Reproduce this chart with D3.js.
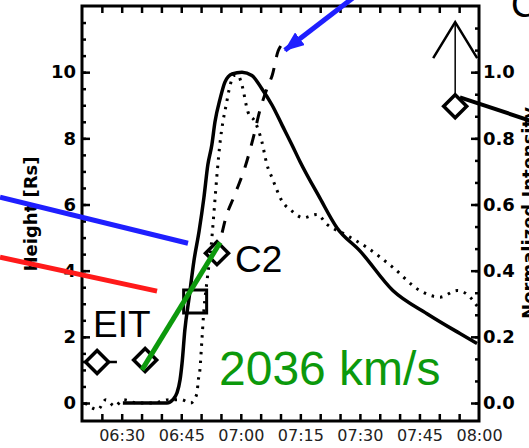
<!DOCTYPE html>
<html>
<head>
<meta charset="utf-8">
<script src="https://cdn.jsdelivr.net/npm/d3@7"></script>
<style>
  body { margin: 0; background: #fff; }
  svg { display: block; }
</style>
</head>
<body>
<svg id="chart" width="529" height="448"></svg>
<script>
// ---- data ----
const timeLabels = ["06:30", "06:45", "07:00", "07:15", "07:30", "07:45", "08:00"];
const heightTicks = [0, 2, 4, 6, 8, 10];
const intensityTicks = [0.0, 0.2, 0.4, 0.6, 0.8, 1.0];

// solid: normalized intensity (right axis)
const solidTimes = ["06:30:18","06:41:24","06:42:54","06:43:54","06:44:42","06:45:12","06:45:54","06:47:00","06:48:12","06:49:30",
  "06:50:42","06:51:42","06:52:42","06:53:30","06:54:48","06:56:00","06:57:48","07:00:18","07:02:48","07:05:18",
  "07:07:54","07:10:24","07:12:54","07:14:54","07:19:54","07:24:12","07:30:00","07:38:18","07:46:54","07:55:12","07:59:30"];
const solidIntensity = [0.00,0.00,0.01,0.03,0.07,0.12,0.22,0.32,0.43,0.52,
  0.62,0.72,0.78,0.85,0.92,0.97,0.995,1.00,0.99,0.95,
  0.90,0.84,0.78,0.73,0.62,0.53,0.46,0.34,0.27,0.21,0.18];

// dotted: second normalized intensity (right axis)
const dottedTimes = ["06:20:48","06:24:00","06:26:00","06:28:18","06:30:18","06:34:00","06:38:00","06:42:00","06:45:00","06:47:24",
  "06:49:00","06:49:12","06:49:42","06:50:12","06:50:42","06:51:30","06:52:30","06:53:12","06:54:00","06:54:48",
  "06:55:30","06:56:18","06:57:18","06:58:18","06:59:18","07:00:18","07:01:48","07:03:36","07:05:18","07:06:36",
  "07:07:54","07:10:24","07:12:54","07:15:42","07:19:12","07:21:42","07:26:12","07:31:48","07:38:18","07:45:06",
  "07:50:12","07:54:30","07:58:30","07:59:42"];
const dottedIntensity = [0.00,-0.02,0.01,-0.01,0.01,0.00,0.00,0.01,0.01,0.00,
  0.03,0.06,0.10,0.19,0.28,0.37,0.47,0.57,0.69,0.79,
  0.85,0.90,0.96,0.99,0.99,0.96,0.88,0.85,0.79,0.72,
  0.68,0.61,0.58,0.56,0.57,0.54,0.51,0.47,0.41,0.34,
  0.32,0.34,0.31,0.29];

// dashed: height profile [Rs] (left axis)
const dashedTimes = ["06:55:18","06:56:00","06:58:30","07:01:06","07:03:06","07:04:48","07:06:54","07:07:54","07:09:24","07:10:06"];
const dashedHeight = [5.15, 5.5, 6.3, 7.14, 8.0, 8.84, 9.6, 9.9, 10.64, 10.8];

// height measurements [Rs]
const eitTimes = ["06:23:48", "06:35:54"];
const eitHeight = [1.24, 1.30];
const eitErrMin = [5, 0];
const boxTime = "06:48:30";
const boxHeight = 3.07;
const c2Time = "06:54:00";
const c2Height = 4.53;
const c3Time = "07:54:00";
const c3Height = 8.97;
const c3Limit = 11.51;

// linear fit 2036 km/s
const fitTimes = ["06:35:06", "06:54:48"];
const fitHeight = [1.0, 4.85];

// pointer lines coming in from the neighbouring panels
const blueTimes = ["05:59:21", "06:46:42"];
const blueHeight = [6.22, 4.83];
const redTimes = ["05:59:21", "06:38:54"];
const redHeight = [4.41, 3.38];
const blackTimes = ["07:55:12", "08:14:00"];
const blackHeight = [9.24, 8.49];
const arrowTimes = ["07:30:48", "07:11:06"];
const arrowHeight = [12.48, 10.66];

// ---- chart ----
const parseT = d3.timeParse("%H:%M:%S");
const parseHM = d3.timeParse("%H:%M");

const plotL = 82, plotR = 479, plotT = 6, plotB = 421;

const x = d3.scaleTime()
  .domain([parseT("06:20:00"), parseT("08:00:00")])
  .range([plotL, plotR]);
const yH = d3.scaleLinear().domain([-0.544, 12.0]).range([plotB, plotT]);
const yI = d3.scaleLinear().domain([-0.0544, 1.2]).range([plotB, plotT]);

const svg = d3.select("#chart");

svg.append("defs").append("clipPath").attr("id", "plotclip")
  .append("rect")
  .attr("x", plotL).attr("y", plotT)
  .attr("width", plotR - plotL).attr("height", plotB - plotT);

const blue = "#1f1fff", red = "#ff1a1a", green = "#0c990c";

// axis titles (drawn first, pointer lines go over them)
svg.append("text")
  .attr("transform", "translate(37,214) rotate(-90)")
  .attr("text-anchor", "middle")
  .attr("font-family", "DejaVu Sans")
  .attr("font-weight", "bold")
  .attr("font-size", 18)
  .text("Height [Rs]");

// right title runs off the edge of the panel, as in the source figure
svg.append("text")
  .attr("transform", "translate(535,213) rotate(-90)")
  .attr("text-anchor", "middle")
  .attr("font-family", "DejaVu Sans")
  .attr("font-weight", "bold")
  .attr("font-size", 18)
  .text("Normalized Intensity");

// ticks
function styleAxis(g) {
  g.select(".domain").remove();
  g.selectAll("line").attr("stroke", "#000").attr("stroke-width", 2.5);
}

const minuteTicks = d3.timeMinute.every(5).range(parseT("06:25:00"), parseT("08:00:00"));

svg.append("g")
  .attr("transform", `translate(0,${plotB})`)
  .call(d3.axisBottom(x).tickValues(minuteTicks).tickSize(-7).tickFormat(""))
  .call(styleAxis);

svg.append("g")
  .attr("transform", `translate(0,${plotT})`)
  .call(d3.axisTop(x).tickValues(minuteTicks).tickSize(-7).tickFormat(""))
  .call(styleAxis);

const xLab = svg.append("g")
  .attr("transform", `translate(0,${plotB})`)
  .call(d3.axisBottom(x)
    .tickValues(timeLabels.map(parseHM))
    .tickFormat(d3.timeFormat("%H:%M"))
    .tickSize(0).tickPadding(9))
  .call(styleAxis);
xLab.selectAll("text")
  .attr("font-family", "DejaVu Sans")
  .attr("font-size", 16)
  .attr("fill", "#222");

// left axis
svg.append("g")
  .attr("transform", `translate(${plotL},0)`)
  .call(d3.axisLeft(yH).tickValues(d3.range(0, 12, 0.5)).tickSize(-4).tickFormat(""))
  .call(styleAxis);
const yLab = svg.append("g")
  .attr("transform", `translate(${plotL},0)`)
  .call(d3.axisLeft(yH).tickValues(heightTicks).tickSize(-8).tickPadding(6).tickFormat(d3.format("d")))
  .call(styleAxis);
yLab.selectAll("text")
  .attr("font-family", "DejaVu Sans")
  .attr("font-weight", "bold")
  .attr("font-size", 18)
  .attr("fill", "#000");

// right axis
svg.append("g")
  .attr("transform", `translate(${plotR},0)`)
  .call(d3.axisRight(yI).tickValues(d3.range(0, 18).map(i => i * 0.2 / 3)).tickSize(-4).tickFormat(""))
  .call(styleAxis);
const yRLab = svg.append("g")
  .attr("transform", `translate(${plotR},0)`)
  .call(d3.axisRight(yI).tickValues(intensityTicks).tickSize(-8).tickPadding(4).tickFormat(d3.format(".1f")))
  .call(styleAxis);
yRLab.selectAll("text")
  .attr("font-family", "DejaVu Sans")
  .attr("font-weight", "bold")
  .attr("font-size", 18)
  .attr("fill", "#000");

// frame
svg.append("rect")
  .attr("x", plotL).attr("y", plotT)
  .attr("width", plotR - plotL).attr("height", plotB - plotT)
  .attr("fill", "none")
  .attr("stroke", "#000")
  .attr("stroke-width", 3);

// curves
const plot = svg.append("g").attr("clip-path", "url(#plotclip)");

function zipSeries(times, values) {
  return times.map((t, i) => ({ t: parseT(t), v: values[i] }));
}

const intensityLine = d3.line().x(d => x(d.t)).y(d => yI(d.v)).curve(d3.curveMonotoneX);
const heightLine = d3.line().x(d => x(d.t)).y(d => yH(d.v));

plot.append("path")
  .datum(zipSeries(dottedTimes, dottedIntensity))
  .attr("d", intensityLine)
  .attr("fill", "none")
  .attr("stroke", "#000")
  .attr("stroke-width", 3)
  .attr("stroke-dasharray", "2.5,6");

plot.append("path")
  .datum(zipSeries(solidTimes, solidIntensity))
  .attr("d", intensityLine)
  .attr("fill", "none")
  .attr("stroke", "#000")
  .attr("stroke-width", 3.5);

plot.append("path")
  .datum(zipSeries(dashedTimes, dashedHeight))
  .attr("d", heightLine.curve(d3.curveMonotoneX))
  .attr("fill", "none")
  .attr("stroke", "#000")
  .attr("stroke-width", 3)
  .attr("stroke-dasharray", "12,11");

// error bar on first EIT point
eitTimes.forEach((t, i) => {
  if (!eitErrMin[i]) return;
  const tc = parseT(t);
  plot.append("line")
    .attr("x1", x(d3.timeMinute.offset(tc, -eitErrMin[i])))
    .attr("x2", x(d3.timeMinute.offset(tc, eitErrMin[i])))
    .attr("y1", yH(eitHeight[i])).attr("y2", yH(eitHeight[i]))
    .attr("stroke", "#000").attr("stroke-width", 2.5);
});

const diamond = d3.symbol().type(d3.symbolSquare).size(265);

const diamonds = zipSeries(eitTimes.concat([c2Time, c3Time]), eitHeight.concat([c2Height, c3Height]));
svg.selectAll(".dia")
  .data(diamonds)
  .join("path")
  .attr("class", "dia")
  .attr("d", diamond)
  .attr("transform", d => `translate(${x(d.t)},${yH(d.v)}) rotate(45)`)
  .attr("fill", (d, i) => i === 0 ? "#fff" : "none")
  .attr("stroke", "#000")
  .attr("stroke-width", 3.5);

svg.append("path")
  .attr("d", d3.symbol().type(d3.symbolSquare).size(529))
  .attr("transform", `translate(${x(parseT(boxTime))},${yH(boxHeight)})`)
  .attr("fill", "none")
  .attr("stroke", "#000")
  .attr("stroke-width", 3);

// C3 lower limit arrow
const c3x = x(parseT(c3Time));
svg.append("line")
  .attr("x1", c3x).attr("x2", c3x)
  .attr("y1", yH(c3Height) - 11).attr("y2", yH(c3Limit))
  .attr("stroke", "#000").attr("stroke-width", 1.5);
svg.append("path")
  .attr("d", `M${c3x - 22},${yH(c3Limit) + 36}L${c3x},${yH(c3Limit)}L${c3x + 22},${yH(c3Limit) + 36}`)
  .attr("fill", "none")
  .attr("stroke", "#000").attr("stroke-width", 2.5);

// fit line
svg.append("path")
  .datum(zipSeries(fitTimes, fitHeight))
  .attr("d", d3.line().x(d => x(d.t)).y(d => yH(d.v)))
  .attr("stroke", green).attr("stroke-width", 5);

// pointer lines
function pointer(times, values, color, width) {
  return svg.append("path")
    .datum(zipSeries(times, values))
    .attr("d", d3.line().x(d => x(d.t)).y(d => yH(d.v)))
    .attr("fill", "none")
    .attr("stroke", color)
    .attr("stroke-width", width);
}
pointer(blueTimes, blueHeight, blue, 5);
pointer(redTimes, redHeight, red, 5);
pointer(blackTimes, blackHeight, "#000", 4);

svg.select("defs").append("marker")
  .attr("id", "bluehead")
  .attr("markerUnits", "userSpaceOnUse")
  .attr("viewBox", "0 0 20 16")
  .attr("refX", 19).attr("refY", 8)
  .attr("markerWidth", 20).attr("markerHeight", 16)
  .attr("orient", "auto")
  .append("path")
  .attr("d", "M0,0L20,8L0,16Z")
  .attr("fill", blue);

pointer(arrowTimes, arrowHeight, blue, 5)
  .attr("marker-end", "url(#bluehead)");

// labels
svg.append("text")
  .attr("x", 93).attr("y", 337)
  .attr("font-family", "Liberation Sans")
  .attr("font-size", 37)
  .text("EIT");

svg.append("text")
  .attr("x", 235).attr("y", 272)
  .attr("font-family", "Liberation Sans")
  .attr("font-size", 37)
  .text("C2");

svg.append("text")
  .attr("x", 511).attr("y", 17)
  .attr("font-family", "Liberation Sans")
  .attr("font-size", 37)
  .text("C3");

svg.append("text")
  .attr("x", 219).attr("y", 385)
  .attr("font-family", "Liberation Sans")
  .attr("font-size", 48)
  .attr("fill", green)
  .text("2036 km/s");
</script>
</body>
</html>
